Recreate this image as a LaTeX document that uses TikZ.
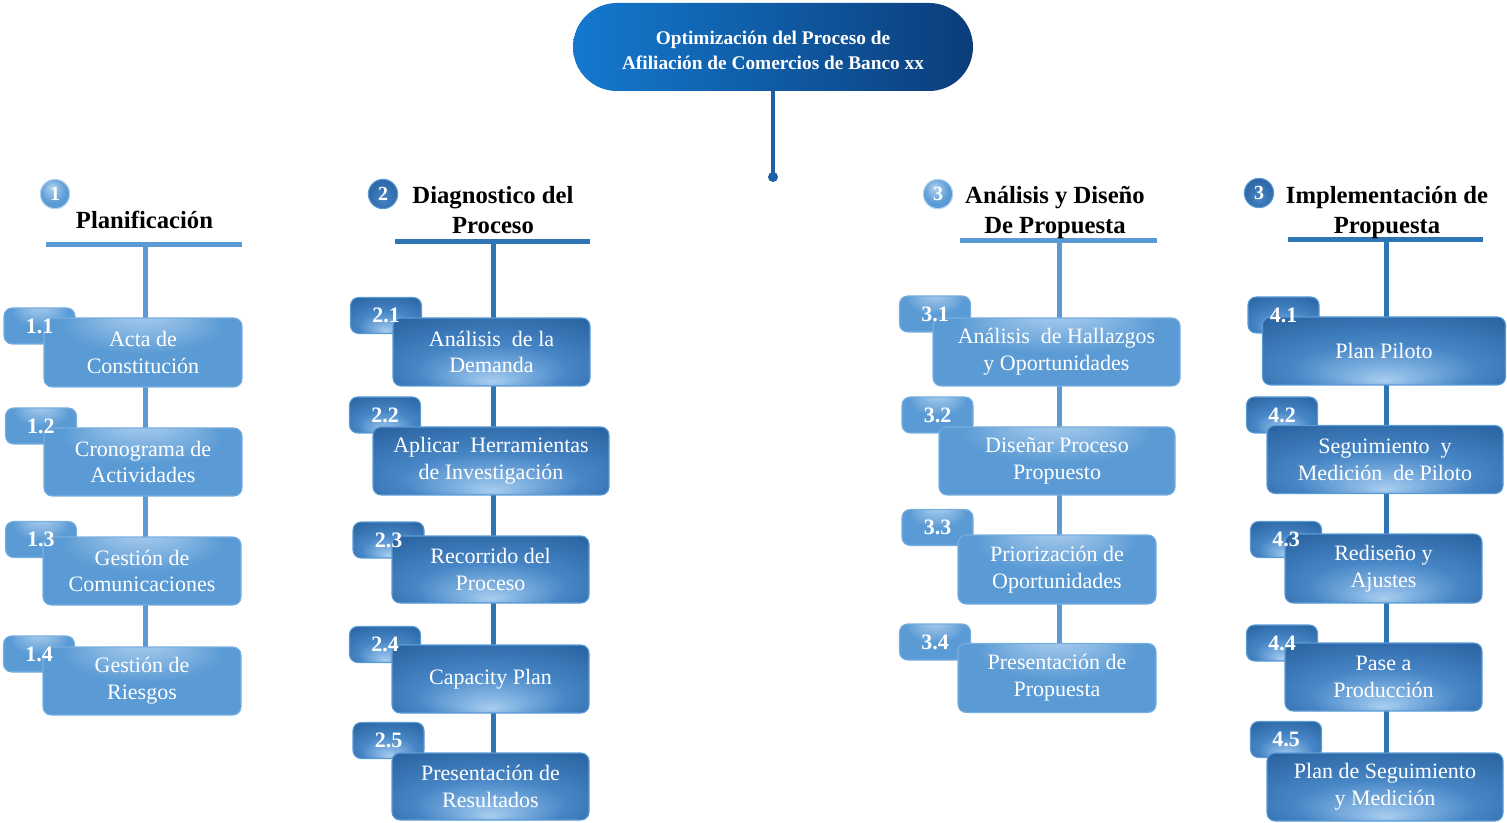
\documentclass[tikz,border=0pt]{standalone}
\usepackage{fontspec}
\setmainfont{Liberation Serif}
\pgfdeclarelayer{bg}
\pgfsetlayers{bg,main}
\definecolor{lite}{HTML}{5B9BD5}
\definecolor{liteH}{HTML}{B3D3F0}
\definecolor{liteB}{HTML}{79AEE0}
\definecolor{darkE}{HTML}{2A63A1}
\definecolor{darkM}{HTML}{4786C6}
\definecolor{darkN}{HTML}{86B6E4}
\definecolor{darkH}{HTML}{AACEEE}
\definecolor{darkL}{HTML}{2E75B6}
\definecolor{navy}{HTML}{0B3D7A}
\definecolor{bright}{HTML}{1479CF}
\definecolor{stem}{HTML}{1E5FA5}
\pgfdeclareradialshading{topglow}{\pgfpoint{0bp}{32bp}}{color(0bp)=(liteH); color(20bp)=(lite); color(50bp)=(lite)}
\pgfdeclareradialshading{darkglow}{\pgfpoint{0bp}{-22bp}}{color(0bp)=(darkH); color(6bp)=(darkN); color(19bp)=(darkM); color(38bp)=(darkE); color(50bp)=(darkE)}
\pgfdeclareradialshading{badgeglowL}{\pgfpoint{-6bp}{12bp}}{color(0bp)=(liteH); color(22bp)=(lite); color(50bp)=(lite)}
\pgfdeclareradialshading{badgeglowD}{\pgfpoint{0bp}{-8bp}}{color(0bp)=(darkM); color(30bp)=(darkE); color(50bp)=(darkE)}
\tikzset{
  boxbase/.style={rectangle, rounded corners=6pt, inner sep=0pt, text=white, align=center,
    font=\fontsize{16.5}{20}\selectfont, line width=0.8pt},
  lbox/.style={boxbase, draw=liteB, shading=topglow},
  dbox/.style={boxbase, draw=lite, shading=darkglow},
  tablbl/.style={text=white, font=\bfseries\fontsize{16.5}{20}\selectfont, inner sep=0pt},
  hdr/.style={align=center, font=\bfseries\fontsize{18.5}{22.5}\selectfont, inner sep=0pt},
  badgeL/.style={circle, minimum size=22pt, inner sep=0pt, text=white, draw=liteH, line width=0.8pt,
    shading=badgeglowL, font=\bfseries\fontsize{15}{15}\selectfont},
  badgeD/.style={circle, minimum size=22pt, inner sep=0pt, text=white, draw=lite, line width=0.8pt,
    shading=badgeglowD, font=\bfseries\fontsize{15}{15}\selectfont},
  barL/.style={draw=lite, line width=3.75pt},
  barD/.style={draw=darkL, line width=3.75pt},
  titlebox/.style={rectangle, rounded corners=33pt, minimum width=300pt, minimum height=66pt,
    left color=bright, right color=navy, inner sep=0pt},
  titletext/.style={text=white, align=center, inner sep=0pt,
    font=\bfseries\fontsize{14.5}{18.75}\selectfont},
}
% #1 id, #2 style, #3 box centre, #4 width px, #5 height px, #6 tab centre, #7 label, #8 text
\newcommand\wbsbox[8]{%
  \node[#2, minimum width=71*0.75pt, minimum height=36*0.75pt] (t#1) at (#6) {};
  \node[#2, minimum width=#4*0.75pt, minimum height=#5*0.75pt] (b#1) at (#3) {#8};
  \node[tablbl] (l#1) at (t#1) {#7};
}
\begin{document}
\begin{tikzpicture}[x=0.75pt,y=-0.75pt]
\useasboundingbox (0,0) rectangle (1507,823);

% title
\node[titlebox] (title) at (773,47) {};
\node[titletext] (titlet) at (773,50.5) {Optimización del Proceso de\\Afiliación de Comercios de Banco xx};
\node[circle, fill=stem, minimum size=7.5pt, inner sep=0pt] (hub) at (773,177) {};
\draw[stem, line width=3.5pt] (title.south) -- (hub.center);

% headers
\node[badgeL] (n1) at (55,194) {1};
\node[hdr] (h1) at (144.5,220) {Planificación};
\node[badgeD] (n2) at (383,194) {2};
\node[hdr] (h2) at (493,210) {Diagnostico del\\Proceso};
\node[badgeL] (n3) at (938,194) {3};
\node[hdr] (h3) at (1055,213) {Análisis y Diseño\\De Propuesta};
\node[badgeD] (n4) at (1259,193) {3};
\node[hdr] (h4) at (1387,213) {Implementación de\\Propuesta};

\coordinate (a1) at (46,245);  \coordinate (z1) at (242,245);  \coordinate (v1) at (145,245);
\coordinate (a2) at (395,242); \coordinate (z2) at (590,242);  \coordinate (v2) at (493,242);
\coordinate (a3) at (960,241); \coordinate (z3) at (1157,241); \coordinate (v3) at (1059,241);
\coordinate (a4) at (1288,240);\coordinate (z4) at (1483,240); \coordinate (v4) at (1386,240);

% column 1
\wbsbox{11}{lbox}{143,352.5}{198}{69}{39.5,326}{1.1}{Acta de\\Constitución}
\wbsbox{12}{lbox}{143,462}{198}{68}{41,426}{1.2}{Cronograma de\\Actividades}
\wbsbox{13}{lbox}{142,571}{198}{68}{41,539.5}{1.3}{Gestión de\\Comunicaciones}
\wbsbox{14}{lbox}{142,681}{198}{68}{39,654}{1.4}{Gestión de\\Riesgos}
% column 2
\wbsbox{21}{dbox}{491.5,352}{197}{68}{386,315.5}{2.1}{Análisis\ \ de la\\Demanda}
\wbsbox{22}{dbox}{491,461}{236}{68}{385,415}{2.2}{Aplicar\ \ Herramientas\\de Investigación}
\wbsbox{23}{dbox}{490.5,569.5}{197}{67}{388.5,540}{2.3}{Recorrido del\\Proceso}
\wbsbox{24}{dbox}{490.5,679}{197}{68}{385,644.5}{2.4}{Capacity Plan}
\wbsbox{25}{dbox}{490.5,786.5}{197}{67}{388.5,740.5}{2.5}{Presentación de\\Resultados}
% column 3
\wbsbox{31}{lbox}{1056.5,352}{247}{68}{935,314}{3.1}{Análisis\ \ de Hallazgos\\y Oportunidades}
\wbsbox{32}{lbox}{1057,461}{236}{68}{937.5,415}{3.2}{Diseñar\ Proceso\\Propuesto}
\wbsbox{33}{lbox}{1057,569.5}{198}{69}{937.5,527.5}{3.3}{Priorización\ de\\Oportunidades}
\wbsbox{34}{lbox}{1057,678}{198}{69}{935,642}{3.4}{Presentación de\\Propuesta}
% column 4
\wbsbox{41}{dbox}{1384,351}{243}{68}{1283.5,315}{4.1}{Plan Piloto}
\wbsbox{42}{dbox}{1385,459.5}{236}{68}{1282,415}{4.2}{Seguimiento\ \ y\\Medición\ \ de Piloto}
\wbsbox{43}{dbox}{1383.5,568.5}{197}{69}{1286,539.5}{4.3}{Rediseño y\\Ajustes}
\wbsbox{44}{dbox}{1383.5,677}{197}{68}{1282,643}{4.4}{Pase a\\Producción}
\wbsbox{45}{dbox}{1385,787}{236}{68}{1286,739.5}{4.5}{Plan de Seguimiento\\y Medición}

\begin{pgfonlayer}{bg}
  \draw[barL] (a1) -- (z1);
  \draw[barD] (a2) -- (z2);
  \draw[barL] (a3) -- (z3);
  \draw[barD] (a4) -- (z4);
  \draw[barL] (v1) -- (v1 |- b14.center);
  \draw[barD] (v2) -- (v2 |- b25.center);
  \draw[barL] (v3) -- (v3 |- b34.center);
  \draw[barD] (v4) -- (v4 |- b45.center);
\end{pgfonlayer}
\end{tikzpicture}
\end{document}
